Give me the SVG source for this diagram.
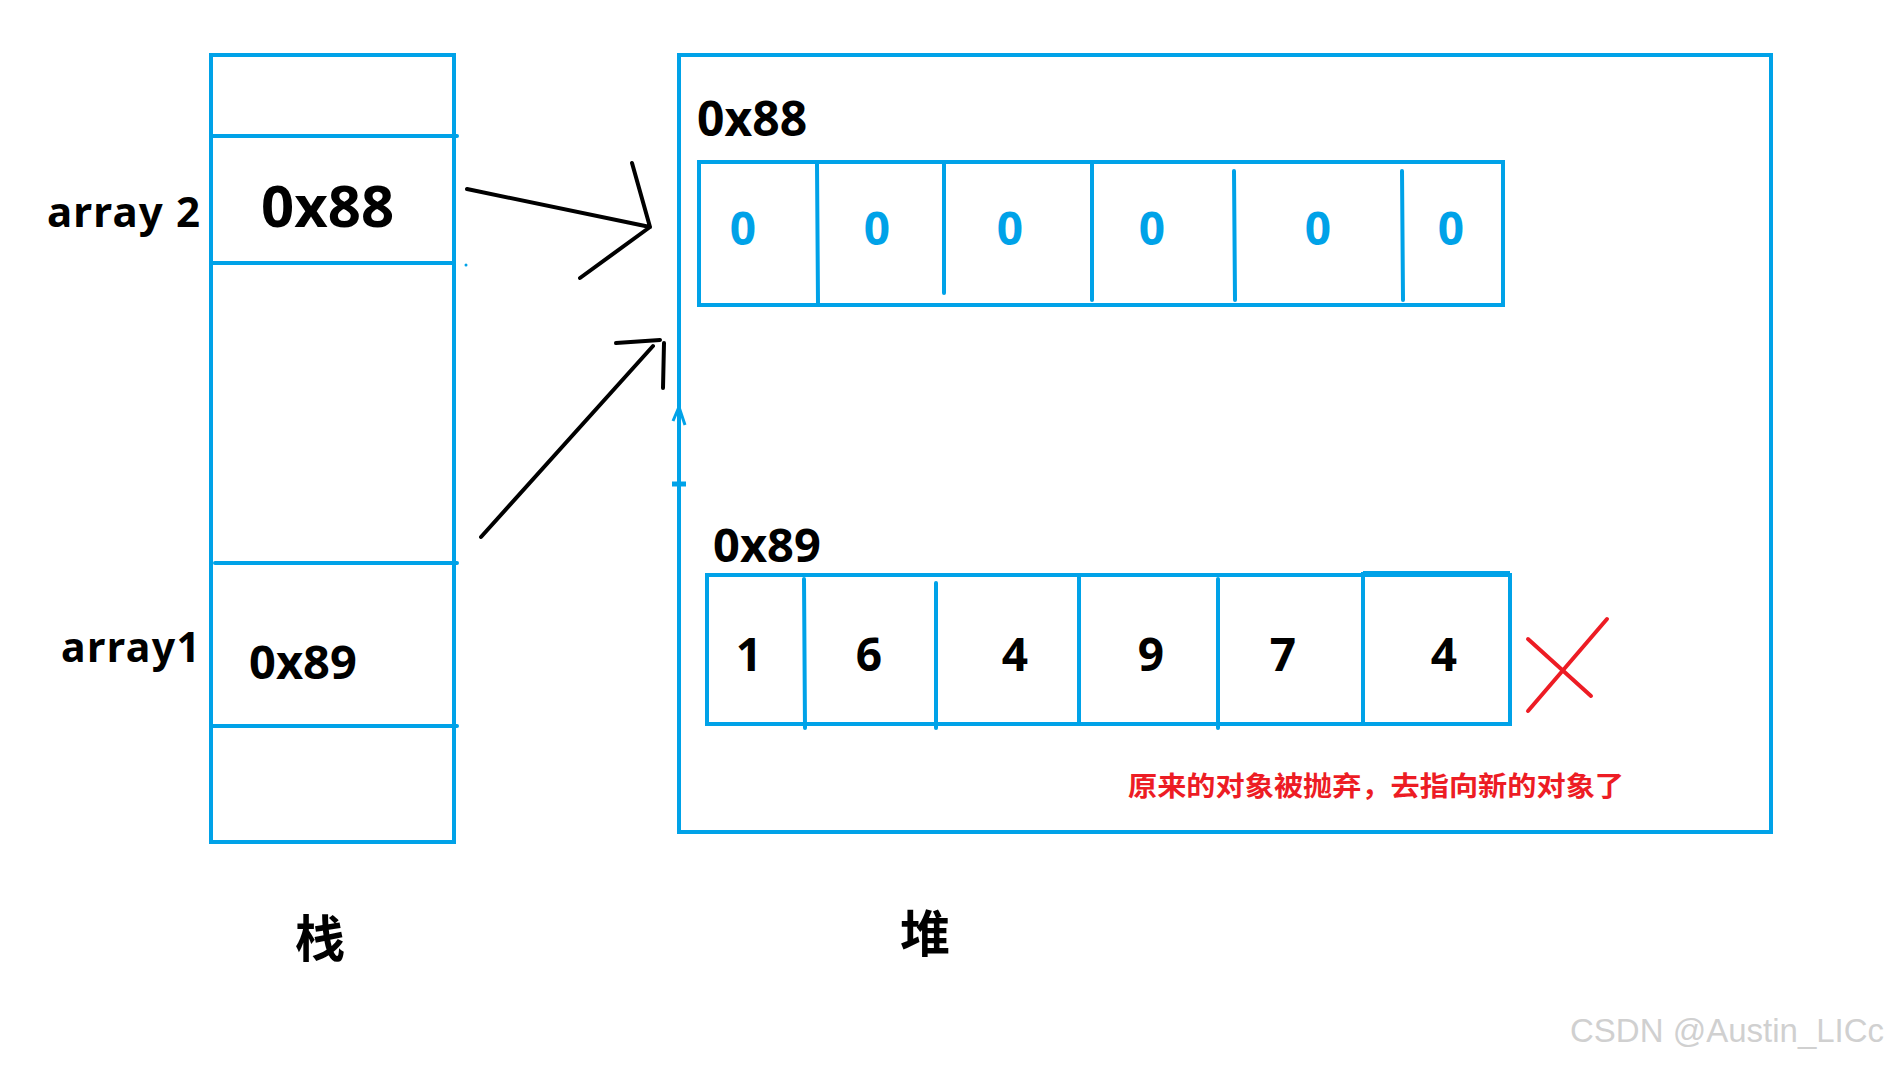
<svg xmlns="http://www.w3.org/2000/svg" width="1896" height="1065" viewBox="0 0 1896 1065">
<style>
.b{fill:none;stroke:#00A2E8;stroke-width:4}
.bl{stroke:#00A2E8;stroke-width:4;stroke-linecap:round}
.k{fill:none;stroke:#000;stroke-width:4;stroke-linecap:round;stroke-linejoin:round}
.r{stroke:#ED1C24;stroke-width:4;stroke-linecap:round}
.t{font-family:"Noto Sans","Open Sans",sans-serif;font-weight:bold;fill:#000}
.z{font-family:"Noto Sans","Open Sans",sans-serif;font-weight:bold;fill:#00A2E8;font-size:46px;text-anchor:middle}
.d{font-family:"Noto Sans","Open Sans",sans-serif;font-weight:bold;fill:#000;font-size:46px;text-anchor:middle}
.cj{font-family:"Noto Sans CJK SC",sans-serif;font-weight:bold}
</style>
<rect width="1896" height="1065" fill="#fff"/>
<g id="stack">
<rect class="b" x="211" y="55" width="243" height="787"/>
<line class="bl" x1="211" y1="136" x2="457" y2="136"/>
<line class="bl" x1="211" y1="263" x2="454" y2="263"/>
<circle cx="466" cy="265" r="1.5" fill="#00A2E8"/>
<line class="bl" x1="215" y1="563" x2="457" y2="563"/>
<line class="bl" x1="211" y1="726" x2="457" y2="726"/>
<text class="t" x="261" y="227" font-size="58">0x88</text>
<text class="t" x="249" y="679" font-size="47">0x89</text>
<text class="t" x="47" y="227" font-size="42" textLength="153" lengthAdjust="spacing">array 2</text>
<text class="t" x="61" y="662" font-size="41" textLength="139" lengthAdjust="spacing">array1</text>
<text class="cj" x="320" y="957" font-size="50" text-anchor="middle">栈</text>
</g>
<g id="heap">
<rect class="b" x="679" y="55" width="1092" height="777"/>
<path d="M673,421 L679,407 L685,425" fill="none" stroke="#00A2E8" stroke-width="3"/>
<line x1="672" y1="484" x2="686" y2="484" stroke="#00A2E8" stroke-width="5"/>
<text class="cj" x="925" y="952" font-size="50" text-anchor="middle">堆</text>
</g>
<g id="array-0x88">
<text class="t" x="697" y="136" font-size="48">0x88</text>
<rect class="b" x="699" y="162" width="804" height="143"/>
<line class="bl" x1="817" y1="164" x2="818" y2="303"/>
<line class="bl" x1="944" y1="164" x2="944" y2="293"/>
<line class="bl" x1="1092" y1="164" x2="1092" y2="300"/>
<line class="bl" x1="1234" y1="171" x2="1235" y2="300"/>
<line class="bl" x1="1402" y1="171" x2="1403" y2="300"/>
<text class="z" x="743" y="245">0</text>
<text class="z" x="877" y="245">0</text>
<text class="z" x="1010" y="245">0</text>
<text class="z" x="1152" y="245">0</text>
<text class="z" x="1318" y="245">0</text>
<text class="z" x="1451" y="245">0</text>
</g>
<g id="array-0x89">
<text class="t" x="713" y="562" font-size="47">0x89</text>
<rect class="b" x="707" y="575" width="803" height="149"/>
<line class="bl" x1="804" y1="579" x2="805" y2="728"/>
<line class="bl" x1="936" y1="583" x2="936" y2="728"/>
<line class="bl" x1="1079" y1="575" x2="1079" y2="724"/>
<line class="bl" x1="1218" y1="579" x2="1218" y2="728"/>
<line class="b" x1="1363" y1="572" x2="1363" y2="724"/>
<line class="b" x1="1363" y1="573" x2="1510" y2="573"/>
<text class="d" x="749" y="671">1</text>
<text class="d" x="869" y="671">6</text>
<text class="d" x="1015" y="671">4</text>
<text class="d" x="1151" y="671">9</text>
<text class="d" x="1283" y="671">7</text>
<text class="d" x="1444" y="671">4</text>
</g>
<g id="discard-mark">
<line class="r" x1="1528" y1="711" x2="1607" y2="619"/>
<line class="r" x1="1528" y1="639" x2="1591" y2="696"/>
<text class="cj" x="1128" y="796" font-size="27" fill="#ED1C24" textLength="496" lengthAdjust="spacingAndGlyphs">原来的对象被抛弃，去指向新的对象了</text>
</g>
<g id="connectors">
<path class="k" d="M467,189 L650,227 M632,163 L650,227 L580,278"/>
<path class="k" d="M481,537 L653,346 M616,343 L660,340 M664,343 L663,388"/>
</g>
<text x="1570" y="1042" font-family="Liberation Sans, Arial, sans-serif" font-size="33" fill="#d0d0d0">CSDN @Austin_LICc</text>
</svg>
